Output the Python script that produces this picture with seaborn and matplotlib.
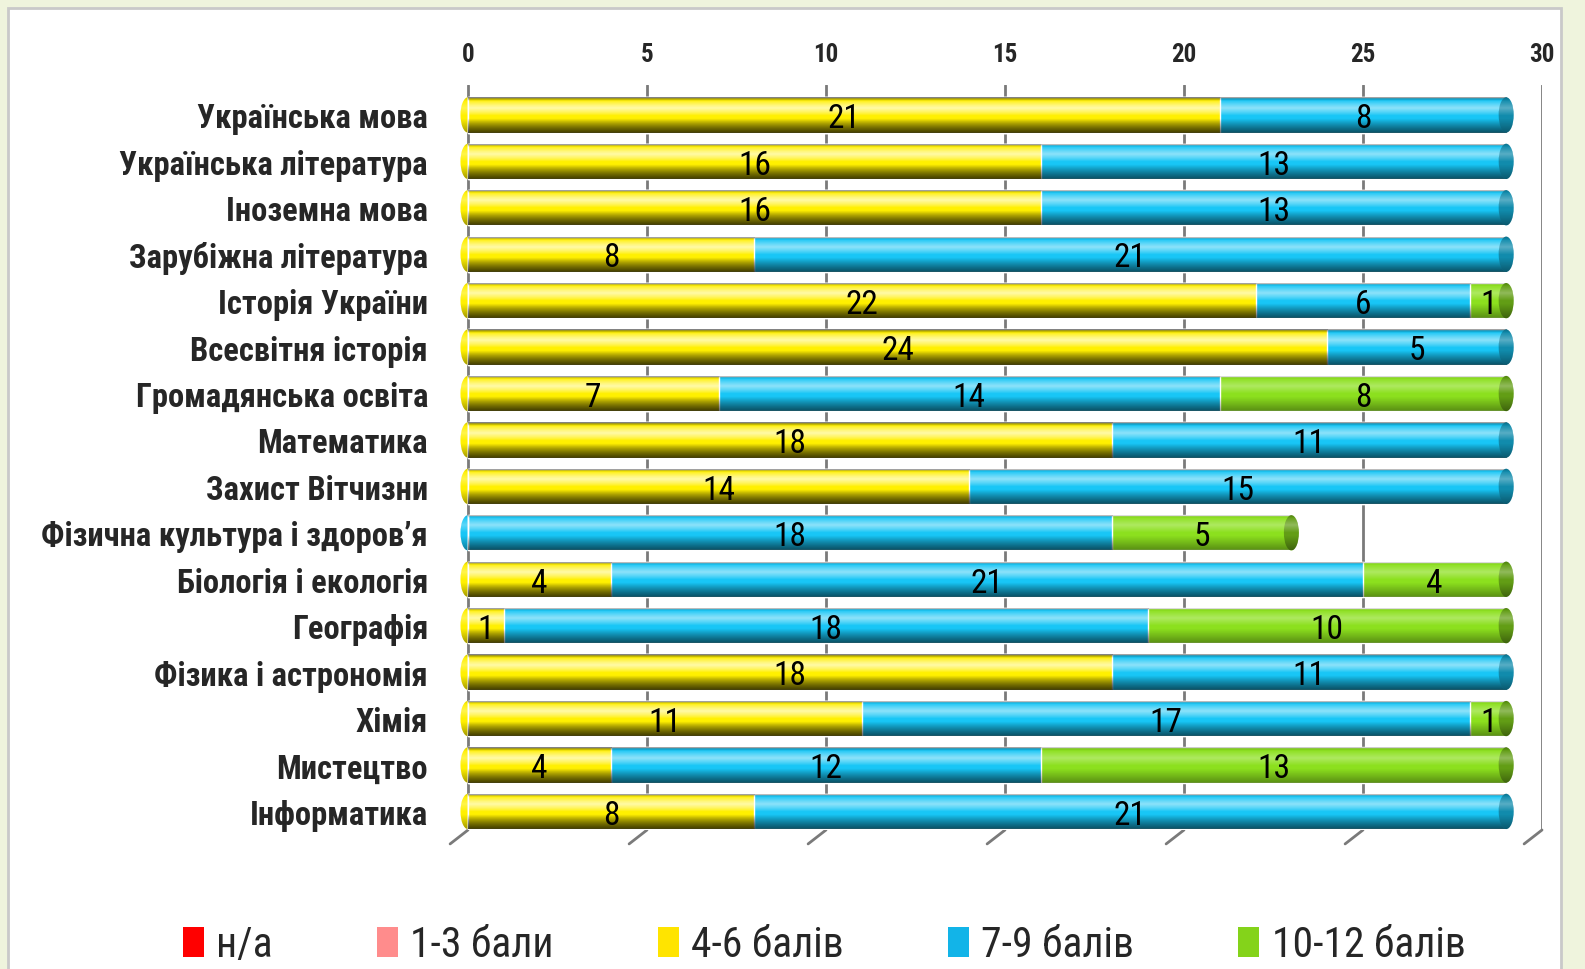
import numpy as np
import pandas as pd
import seaborn as sns
import matplotlib.pyplot as plt
from matplotlib import font_manager
from matplotlib.colors import to_rgb
from matplotlib.patches import Ellipse, Rectangle

# grades per subject (number of pupils)
subjects = ['Українська мова', 'Українська література', 'Іноземна мова',
            'Зарубіжна література', 'Історія України', 'Всесвітня історія',
            'Громадянська освіта', 'Математика', 'Захист Вітчизни',
            'Фізична культура і здоров’я', 'Біологія і екологія', 'Географія',
            'Фізика і астрономія', 'Хімія', 'Мистецтво', 'Інформатика']
grade_4_6 = [21, 16, 16, 8, 22, 24, 7, 18, 14, 0, 4, 1, 18, 11, 4, 8]
grade_7_9 = [8, 13, 13, 21, 6, 5, 14, 11, 15, 18, 21, 18, 11, 17, 12, 21]
grade_10_12 = [0, 0, 0, 0, 1, 0, 8, 0, 0, 5, 4, 10, 0, 1, 13, 0]
legend_labels = ['н/а', '1-3 бали', '4-6 балів', '7-9 балів', '10-12 балів']
x_ticks = [0, 5, 10, 15, 20, 25, 30]

legend_colors = ['#FF0000', '#FF8C8C', '#FFE400', '#12B4E8', '#84D31A']
bar_colors = ['#FFF000', '#18C6F6', '#8CE01E']  # 4-6, 7-9, 10-12

sns.set_theme(style='white')
installed = {f.name for f in font_manager.fontManager.ttflist}
prefs = ['Liberation Sans Narrow', 'Roboto Condensed', 'Noto Sans Condensed',
         'Open Sans Condensed', 'Roboto', 'Liberation Sans']
narrow = next((f for f in prefs if f in installed), 'DejaVu Sans')
plt.rcParams['font.family'] = [narrow, 'DejaVu Sans']

W, H = 1585, 970
fig = plt.figure(figsize=(W / 100, H / 100), dpi=100, facecolor='#eff4dd')
fig.patches.append(Rectangle((8 / W, -0.01), 1553 / W, 1.01 - 9 / H,
                             transform=fig.transFigure, facecolor='white',
                             edgecolor='#c9c9c9', lw=2, zorder=-5))
x_lo = -0.3
px_per_unit = (1542 - 468) / 30
ax_left = 468 + x_lo * px_per_unit
ax = fig.add_axes([ax_left / W, 1 - 831 / H, (1542 - ax_left) / W, (831 - 86) / H])
ax.patch.set_alpha(0)

df = pd.DataFrame({'subject': subjects,
                   'low': grade_4_6,
                   'mid': np.add(grade_4_6, grade_7_9),
                   'top': np.add(np.add(grade_4_6, grade_7_9), grade_10_12)})

# stacked bars: draw cumulative totals from the back to the front
for col, c in [('top', bar_colors[2]), ('mid', bar_colors[1]), ('low', bar_colors[0])]:
    sns.barplot(data=df, y='subject', x=col, color=c, saturation=1,
                width=0.76, orient='h', ax=ax, zorder=1)


def shade(artist, x0, x1, y0, y1, z):
    # cylinder-like vertical gradient clipped to the artist
    t = np.linspace(0, 1, 80)
    dark = np.clip(np.maximum(0.22 * (1 - t / 0.1), 0.36 * (t - 0.6) / 0.4), 0, 0.36)
    light = np.clip(0.3 * (1 - np.abs(t - 0.3) / 0.22), 0, 0.3)
    rgba = np.zeros((80, 1, 4))
    use_dark = dark > 0
    rgba[~use_dark, 0, :3] = 1.0
    rgba[:, 0, 3] = np.where(use_dark, dark, light)
    im = ax.imshow(rgba, extent=(x0, x1, y1, y0), origin='upper',
                   aspect='auto', interpolation='bilinear', zorder=z)
    im.set_clip_path(artist)


for p in list(ax.patches):
    if p.get_width() > 0:
        shade(p, p.get_x(), p.get_x() + p.get_width(),
              p.get_y(), p.get_y() + p.get_height(), 1.5)

# rounded ends of the cylinders
cap_w = 0.42
for i in range(len(subjects)):
    segs = [(grade_4_6[i], bar_colors[0]), (grade_7_9[i], bar_colors[1]),
            (grade_10_12[i], bar_colors[2])]
    nz = [s for s in segs if s[0] > 0]
    first_c, last_c = nz[0][1], nz[-1][1]
    total = df['top'][i]
    left = Ellipse((0, i), cap_w, 0.76, facecolor=first_c, edgecolor='none', zorder=0.8)
    ax.add_patch(left)
    shade(left, -cap_w / 2, cap_w / 2, i - 0.38, i + 0.38, 0.9)
    dc = tuple(np.array(to_rgb(last_c)) * 0.7)
    right = Ellipse((total, i), cap_w, 0.76, facecolor=dc, edgecolor='none', zorder=2)
    ax.add_patch(right)
    shade(right, total - cap_w / 2, total + cap_w / 2, i - 0.38, i + 0.38, 2.5)

# value labels in the middle of each segment
for i in range(len(subjects)):
    start = 0
    for v in (grade_4_6[i], grade_7_9[i], grade_10_12[i]):
        if v > 0:
            ax.text(start + v / 2, i + 0.07, str(v), ha='center', va='center',
                    fontsize=24, color='black', zorder=3)
        start += v

y_bottom = len(subjects) - 1 + 0.4
ax.set_xlim(x_lo, 30)
ax.set_ylim(y_bottom, -0.645)
ax.set_xticks(x_ticks)
ax.xaxis.tick_top()
ax.tick_params(axis='x', length=0, pad=14, labelsize=18)
for lab in ax.get_xticklabels():
    lab.set_fontweight('bold')
ax.tick_params(axis='y', length=0, pad=21, labelsize=23.5)
for lab in ax.get_yticklabels():
    lab.set_fontweight('bold')
ax.set_xlabel('')
ax.set_ylabel('')
ax.grid(visible=False)
for t in x_ticks:
    ax.axvline(t, color='#7a7a7a', lw=2, zorder=0.5)
    # slanted floor stub below the last bar
    ax.plot([t, t - 0.5], [y_bottom, y_bottom + 0.3], color='#7a7a7a', lw=2,
            clip_on=False, zorder=0.5)
for s in ax.spines.values():
    s.set_visible(False)

handles = [Rectangle((0, 0), 1, 1, facecolor=c, edgecolor='none') for c in legend_colors]
fig.legend(handles, legend_labels, loc='center', ncol=5, frameon=False,
           bbox_to_anchor=(0.52, 1 - 946 / H), fontsize=30,
           handlelength=0.5, handleheight=0.75, handletextpad=0.3,
           columnspacing=2.5)

fig.savefig('out.png', dpi=100, facecolor=fig.get_facecolor())
